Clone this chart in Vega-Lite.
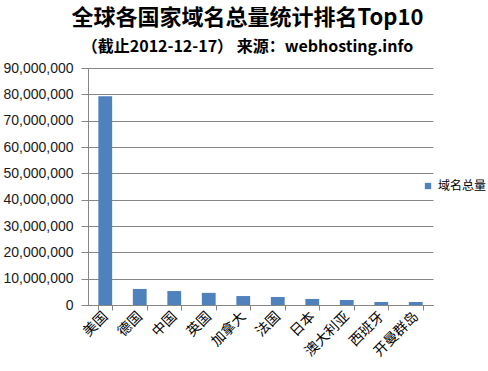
{
  "$schema": "https://vega.github.io/schema/vega-lite/v6.json",
  "autosize": "none",
  "width": 345,
  "height": 237,
  "padding": {"left": 88, "top": 68, "right": 55, "bottom": 66},
  "background": "white",
  "title": {
    "text": "全球各国家域名总量统计排名Top10",
    "subtitle": "（截止2012-12-17） 来源：webhosting.info",
    "anchor": "middle",
    "dx": -13,
    "offset": 5,
    "font": "Noto Sans CJK SC",
    "fontSize": 22,
    "fontWeight": "bold",
    "color": "#000000",
    "subtitleFont": "Noto Sans CJK SC",
    "subtitleFontSize": 16,
    "subtitleFontWeight": "bold",
    "subtitleColor": "#000000",
    "subtitlePadding": 9
  },
  "data": {
    "values": [
      {"country": "美国", "domains": 79300000, "series": "域名总量"},
      {"country": "德国", "domains": 6100000, "series": "域名总量"},
      {"country": "中国", "domains": 5300000, "series": "域名总量"},
      {"country": "英国", "domains": 4600000, "series": "域名总量"},
      {"country": "加拿大", "domains": 3400000, "series": "域名总量"},
      {"country": "法国", "domains": 3050000, "series": "域名总量"},
      {"country": "日本", "domains": 2300000, "series": "域名总量"},
      {"country": "澳大利亚", "domains": 1900000, "series": "域名总量"},
      {"country": "西班牙", "domains": 1150000, "series": "域名总量"},
      {"country": "开曼群岛", "domains": 1150000, "series": "域名总量"}
    ]
  },
  "mark": {"type": "bar"},
  "encoding": {
    "x": {
      "field": "country",
      "type": "nominal",
      "sort": null,
      "scale": {"paddingInner": 0.6, "paddingOuter": 0.3},
      "axis": {
        "title": null,
        "labelAngle": -45,
        "labelAlign": "right",
        "labelBaseline": "middle",
        "labelFont": "Noto Sans CJK SC",
        "labelFontSize": 14,
        "labelColor": "#000000",
        "labelPadding": 4,
        "tickBand": "extent",
        "tickColor": "#868686",
        "tickSize": 5,
        "domainColor": "#868686",
        "grid": false
      }
    },
    "y": {
      "field": "domains",
      "type": "quantitative",
      "scale": {"domain": [0, 90000000], "nice": false},
      "axis": {
        "title": null,
        "values": [0, 10000000, 20000000, 30000000, 40000000, 50000000, 60000000, 70000000, 80000000, 90000000],
        "format": ",d",
        "labelFont": "Liberation Sans",
        "labelFontSize": 14,
        "labelColor": "#1a1a1a",
        "labelPadding": 8,
        "tickColor": "#868686",
        "tickSize": 7,
        "domainColor": "#868686",
        "gridColor": "#868686",
        "gridOpacity": 1
      }
    },
    "color": {
      "field": "series",
      "type": "nominal",
      "scale": {"range": ["#4F81BD"]},
      "legend": {
        "title": null,
        "orient": "none",
        "legendX": 334,
        "legendY": 112,
        "symbolType": "square",
        "symbolSize": 40,
        "labelFont": "Noto Sans CJK SC",
        "labelFontSize": 12,
        "labelColor": "#000000"
      }
    }
  },
  "config": {"view": {"stroke": null}}
}
